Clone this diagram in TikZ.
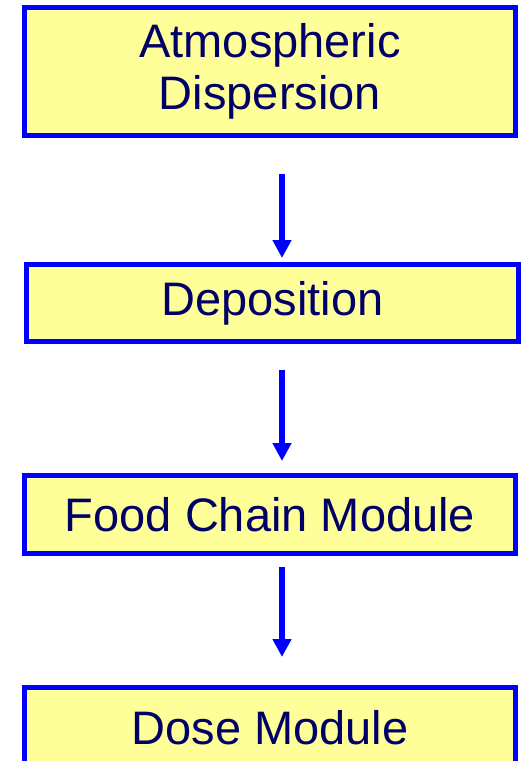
\documentclass[tikz,border=0pt]{standalone}
\usepackage{fontspec}
\setmainfont{Liberation Sans}
\usetikzlibrary{arrows.meta}
\definecolor{boxfill}{HTML}{FFFF99}
\definecolor{boxline}{HTML}{0000FF}
\definecolor{boxtext}{HTML}{000066}

\begin{document}
\begin{tikzpicture}[x=1pt,y=-1pt,
  module/.style={draw=boxline, fill=boxfill, line width=5pt, outer sep=0pt,
    inner sep=0pt, minimum width=491pt, text=boxtext, align=center,
    font=\fontsize{47}{52}\selectfont},
  flow/.style={draw=boxline, line width=6pt,
    -{Triangle[width=18pt,length=18pt]}}]

\useasboundingbox (0,0) rectangle (528,761);

% define the modules
  \node[module, minimum height=128pt] (atm) at (270,71.5)
{Atmospheric\\Dispersion};
  \node[module, minimum width=492pt, minimum height=77pt] (dep) at (272.5,303)
{Deposition};
  \node[module, minimum height=78pt] (food) at (270,514.5)
{Food Chain Module};
  \node[module, minimum height=80pt] (dose) at (270,727.5)
{Dose Module};

% define the links
  \draw[flow] ([xshift=12pt,yshift=-38.5pt]atm.south)
    -- ([xshift=9.5pt,yshift=6.5pt]dep.north);
  \draw[flow] ([xshift=9.5pt,yshift=-28.5pt]dep.south)
    -- ([xshift=12pt,yshift=14.5pt]food.north);
  \draw[flow] ([xshift=12pt,yshift=-13.5pt]food.south)
    -- ([xshift=12pt,yshift=30.5pt]dose.north);

\end{tikzpicture}
\end{document}
